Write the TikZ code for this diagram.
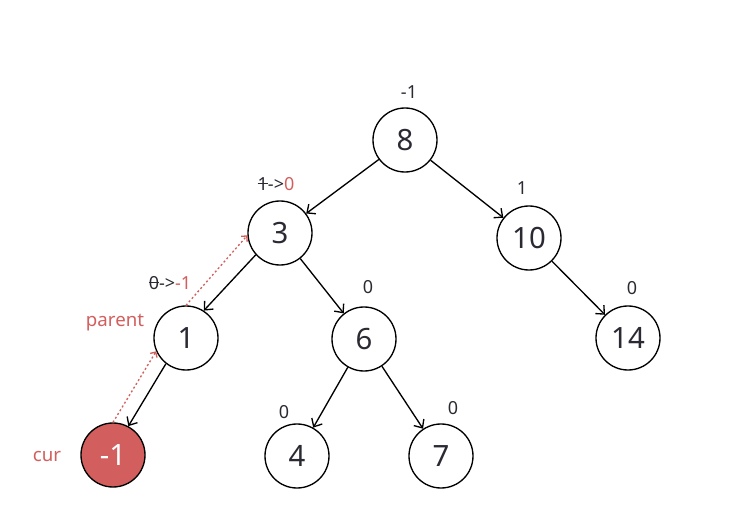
\documentclass[tikz,border=0pt]{standalone}
\usepackage{fontspec}
\setmainfont{Noto Sans}
\usepackage{xcolor}
\usetikzlibrary{arrows.meta,positioning}
\definecolor{hotred}{HTML}{D35E5E}
\definecolor{inkgray}{HTML}{2A2A33}
\newlength\strikewd
\newcommand{\strikeout}[1]{\settowidth{\strikewd}{#1}\rlap{\rule[0.33em]{\strikewd}{0.07em}}#1}

\begin{document}
\begin{tikzpicture}[
    x=0.75pt, y=-0.75pt,
    vertex/.style={circle, draw=black, line width=1pt, fill=white, minimum size=48pt, inner sep=0pt, text=inkgray, font=\fontsize{22}{26}\selectfont},
    hotvertex/.style={vertex, fill=hotred, text=white},
    balance/.style={text=inkgray, font=\fontsize{13.5}{15}\selectfont},
    tag/.style={text=hotred, font=\fontsize{14}{16}\selectfont},
    arrow/.style={-{Straight Barb[length=5pt,width=9pt]}, line width=1pt, draw=black},
    trace/.style={-{Straight Barb[length=3pt,width=6pt]}, dash pattern=on 1.5pt off 1.8pt, line width=1pt, draw=hotred}
]
    \useasboundingbox (0,0) rectangle (736,517);

    % tree
    \node [vertex] (n8) at (405,140) {8};
    \node [vertex] (n3) at (280,233) {3};
    \node [vertex] (n10) at (529,238) {10};
    \node [vertex] (n1) at (186,338) {1};
    \node [vertex] (n6) at (364,339) {6};
    \node [vertex] (n14) at (628,338) {14};
    \node [hotvertex] (cur) at (113,455) {-1};
    \node [vertex] (n4) at (297,456) {4};
    \node [vertex] (n7) at (441,456) {7};

    \draw [arrow] (n8) -- (n3);
    \draw [arrow] (n8) -- (n10);
    \draw [arrow] (n3.222) -- (n1.57);
    \draw [arrow] (n3) -- (n6);
    \draw [arrow] (n10) -- (n14);
    \draw [arrow] (n1.232) -- (cur.62);
    \draw [arrow] (n6) -- (n4);
    \draw [arrow] (n6) -- (n7);

    % balance factors
    \node [balance] (b8) at (409,92) {-1};
    \node [balance] (b3) at (276,184) {\strikeout{1}->\textcolor{hotred}{0}};
    \node [balance] (b10) at (522,188) {1};
    \node [balance] (b1) at (170,283) {\strikeout{0}->\textcolor{hotred}{-1}};
    \node [balance] (b6) at (368,287) {0};
    \node [balance] (b14) at (632,288) {0};
    \node [balance] (b4) at (284,412) {0};
    \node [balance] (b7) at (453,408) {0};

    % pointers
    \node [tag] (parent) at (115,323) {parent};
    \node [tag] (curtag) at (47,456) {cur};
    \draw [trace] (cur.north) -- (n1.204);
    \draw [trace] (n1.north) -- (n3.184);
\end{tikzpicture}
\end{document}
